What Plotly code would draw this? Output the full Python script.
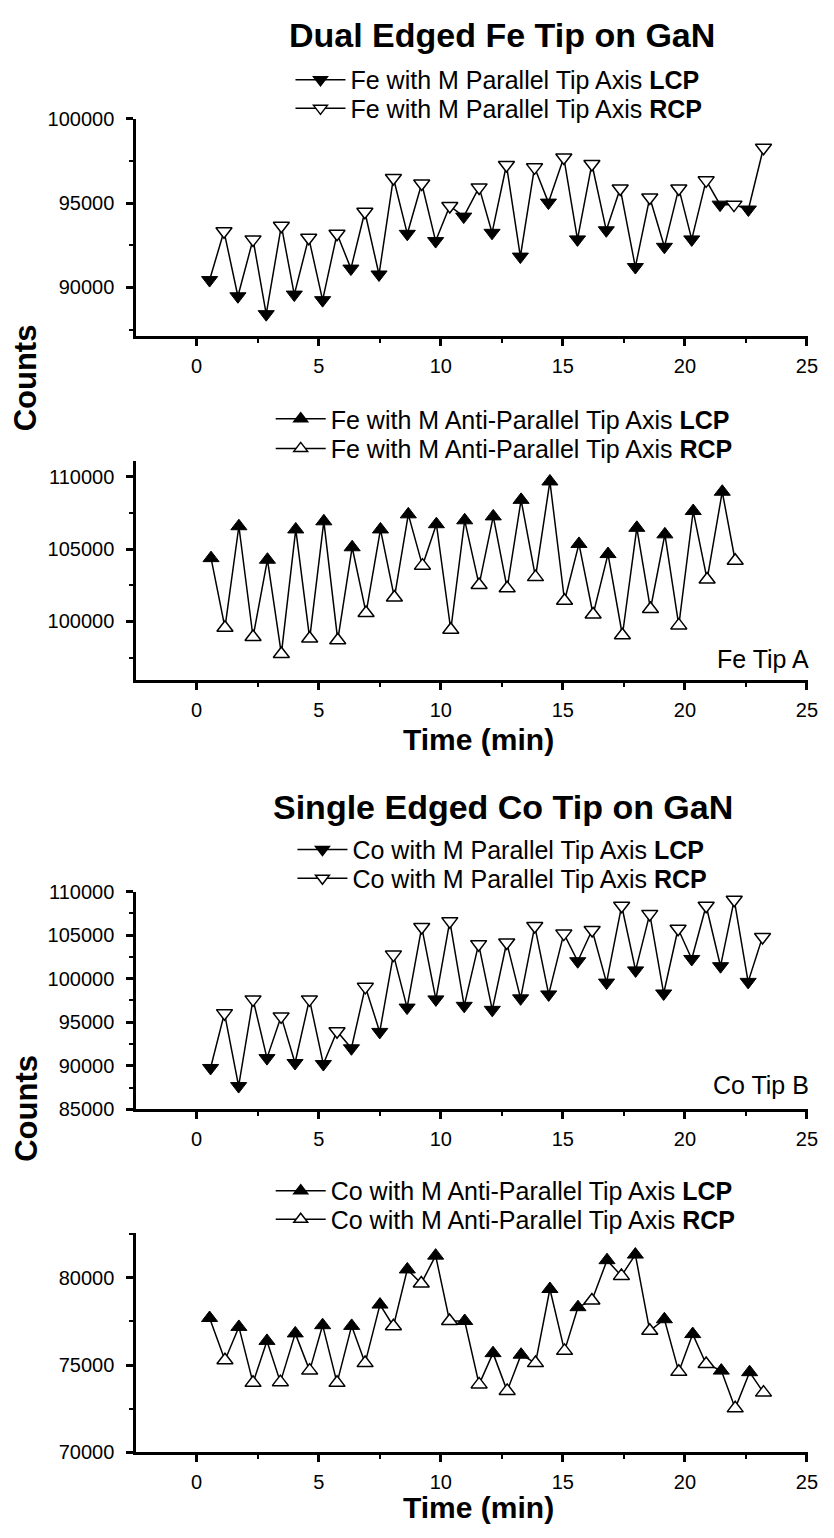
import plotly.graph_objects as go

W, H = 834, 1538
FONT = "Liberation Sans, Arial, sans-serif"

# ---------------- data ----------------
# Panel 1: Dual edged Fe tip, M parallel tip axis
fe_par_lcp_t = [0.53, 1.69, 2.85, 4.00, 5.16, 6.32, 7.47, 8.63, 9.79, 10.94, 12.10, 13.26, 14.41, 15.60, 16.78, 17.97, 19.16, 20.28, 21.44, 22.60]
fe_par_lcp = [90440, 89480, 88420, 89580, 89250, 91120, 90770, 93180, 92750, 94200, 93240, 91830, 95030, 92850, 93390, 91210, 92410, 92850, 94910, 94620]
fe_par_rcp_t = [1.12, 2.31, 3.47, 4.59, 5.75, 6.89, 8.06, 9.22, 10.37, 11.57, 12.69, 13.84, 15.04, 16.19, 17.35, 18.56, 19.75, 20.87, 22.01, 23.22]
fe_par_rcp = [93330, 92850, 93660, 92950, 93180, 94490, 96490, 96160, 94830, 95930, 97260, 97120, 97700, 97320, 95870, 95330, 95870, 96350, 94910, 98280]

# Panel 2: Fe tip, M anti-parallel tip axis
fe_anti_lcp_t = [0.59, 1.73, 2.90, 4.06, 5.21, 6.37, 7.53, 8.67, 9.82, 10.98, 12.15, 13.29, 14.47, 15.66, 16.85, 18.03, 19.18, 20.34, 21.53]
fe_anti_lcp = [104370, 106570, 104260, 106350, 106910, 105120, 106350, 107390, 106710, 106980, 107250, 108390, 109660, 105350, 104650, 106460, 106010, 107620, 108950]
fe_anti_rcp_t = [1.16, 2.31, 3.47, 4.63, 5.78, 6.94, 8.10, 9.25, 10.41, 11.57, 12.72, 13.88, 15.07, 16.24, 17.44, 18.59, 19.75, 20.91, 22.06]
fe_anti_rcp = [99570, 98930, 97760, 98820, 98710, 100590, 101650, 103850, 99430, 102520, 102290, 103060, 101430, 100480, 99050, 100860, 99730, 102900, 104190]

# Panel 3: Single edged Co tip, M parallel tip axis
co_par_lcp_t = [0.57, 1.72, 2.88, 4.03, 5.19, 6.34, 7.50, 8.62, 9.80, 10.96, 12.11, 13.27, 14.42, 15.61, 16.79, 17.98, 19.13, 20.28, 21.46, 22.59]
co_par_lcp = [89750, 87670, 90880, 90320, 90200, 92010, 93890, 96680, 97620, 96880, 96420, 97740, 98190, 102000, 99550, 100950, 98300, 102260, 101430, 99630]
co_par_rcp_t = [1.14, 2.31, 3.46, 4.62, 5.75, 6.91, 8.06, 9.22, 10.37, 11.55, 12.70, 13.85, 15.04, 16.20, 17.41, 18.56, 19.72, 20.87, 22.02, 23.18]
co_par_rcp = [96040, 97620, 95670, 97620, 93970, 99060, 102760, 105920, 106600, 103960, 104150, 106040, 105170, 105580, 108370, 107430, 105730, 108370, 109050, 104790]

# Panel 4: Co tip, M anti-parallel tip axis
co_anti_lcp_t = [0.53, 1.73, 2.88, 4.04, 5.16, 6.35, 7.51, 8.63, 9.79, 10.98, 12.14, 13.29, 14.47, 15.62, 16.81, 17.97, 19.16, 20.32, 21.49, 22.65]
co_anti_lcp = [77690, 77180, 76380, 76810, 77280, 77240, 78460, 80470, 81260, 77520, 75680, 75590, 79350, 78310, 81000, 81320, 77620, 76770, 74680, 74590]
co_anti_rcp_t = [1.16, 2.31, 3.43, 4.63, 5.75, 6.90, 8.06, 9.20, 10.36, 11.57, 12.72, 13.88, 15.07, 16.19, 17.40, 18.56, 19.75, 20.87, 22.06, 23.22]
co_anti_rcp = [75270, 73980, 74020, 74680, 73980, 75110, 77220, 79670, 77520, 73890, 73520, 75110, 75810, 78690, 80100, 76960, 74610, 75060, 72520, 73420]

x_ticks = [0, 5, 10, 15, 20, 25]

# ---------------- layout helpers ----------------
def px_x(p):
    return p / W

def px_y(p):
    return 1 - p / H

X_LEFT, X_RIGHT = 138, 818
panels = [
    dict(lt=fe_par_lcp_t, lv=fe_par_lcp, rt=fe_par_rcp_t, rv=fe_par_rcp, sym="triangle-down",
         top=109.3, bot=329.3, yr=[87150, 100000], yt=[90000, 95000, 100000],
         names=["Fe with M Parallel Tip Axis <b>LCP</b>", "Fe with M Parallel Tip Axis <b>RCP</b>"],
         leg_x=294, rows=[70, 99]),
    dict(lt=fe_anti_lcp_t, lv=fe_anti_lcp, rt=fe_anti_rcp_t, rv=fe_anti_rcp, sym="triangle-up",
         top=456.7, bot=678.3, yr=[95990, 111060], yt=[100000, 105000, 110000],
         names=["Fe with M Anti-Parallel Tip Axis <b>LCP</b>", "Fe with M Anti-Parallel Tip Axis <b>RCP</b>"],
         leg_x=274, rows=[414, 444]),
    dict(lt=co_par_lcp_t, lv=co_par_lcp, rt=co_par_rcp_t, rv=co_par_rcp, sym="triangle-down",
         top=893.3, bot=1114.3, yr=[85000, 110000], yt=[85000, 90000, 95000, 100000, 105000, 110000],
         names=["Co with M Parallel Tip Axis <b>LCP</b>", "Co with M Parallel Tip Axis <b>RCP</b>"],
         leg_x=296, rows=[851, 880]),
    dict(lt=co_anti_lcp_t, lv=co_anti_lcp, rt=co_anti_rcp_t, rv=co_anti_rcp, sym="triangle-up",
         top=1239.3, bot=1462.3, yr=[70000, 82580], yt=[70000, 75000, 80000],
         names=["Co with M Anti-Parallel Tip Axis <b>LCP</b>", "Co with M Anti-Parallel Tip Axis <b>RCP</b>"],
         leg_x=274, rows=[1197, 1226]),
]

fig = go.Figure()
layout = dict(
    width=W, height=H, margin=dict(l=0, r=0, t=0, b=0),
    paper_bgcolor="white", plot_bgcolor="white", showlegend=True,
    font=dict(family=FONT, color="black"),
)

MSIZE = 14
leg_idx = 0
for i, p in enumerate(panels):
    n = i + 1
    xa = "x" if n == 1 else f"x{n}"
    ya = "y" if n == 1 else f"y{n}"

    # zig-zag line through all points in time order
    pts = sorted(list(zip(p["lt"], p["lv"])) + list(zip(p["rt"], p["rv"])))
    fig.add_trace(go.Scatter(x=[a for a, _ in pts], y=[b for _, b in pts], mode="lines",
                             line=dict(color="black", width=1.5), showlegend=False,
                             xaxis=xa, yaxis=ya, hoverinfo="skip"))
    # markers
    fig.add_trace(go.Scatter(x=p["lt"], y=p["lv"], mode="markers", showlegend=False,
                             marker=dict(symbol=p["sym"], size=MSIZE, color="black",
                                         line=dict(color="black", width=1)),
                             xaxis=xa, yaxis=ya))
    fig.add_trace(go.Scatter(x=p["rt"], y=p["rv"], mode="markers", showlegend=False,
                             marker=dict(symbol=p["sym"], size=MSIZE, color="white",
                                         line=dict(color="black", width=1.5)),
                             xaxis=xa, yaxis=ya))
    # legend entries, one legend box per row
    for k, (nm, fill) in enumerate(zip(p["names"], ["black", "white"])):
        leg_idx += 1
        lg = "legend" if leg_idx == 1 else f"legend{leg_idx}"
        fig.add_trace(go.Scatter(x=[None], y=[None], mode="lines+markers", name=nm,
                                 line=dict(color="black", width=1.5),
                                 marker=dict(symbol=p["sym"], size=12, color=fill,
                                             line=dict(color="black", width=1.5)),
                                 xaxis=xa, yaxis=ya, legend=lg))
        layout[lg] = dict(x=px_x(p["leg_x"]), y=px_y(p["rows"][k]), xanchor="left",
                          yanchor="middle", bgcolor="rgba(0,0,0,0)", borderwidth=0,
                          itemwidth=50, font=dict(size=25, color="black", family=FONT))

    axis_common = dict(showline=True, linecolor="black", linewidth=3, ticks="outside",
                       ticklen=7, tickwidth=2.5, tickcolor="black", showgrid=False,
                       zeroline=False, tickfont=dict(size=20, color="black", family=FONT))
    layout["xaxis" if n == 1 else f"xaxis{n}"] = dict(
        axis_common, domain=[px_x(X_LEFT), px_x(X_RIGHT)], range=[-2.47, 25.05],
        tickmode="array", tickvals=x_ticks, anchor=ya, ticklabelstandoff=3,
        minor=dict(ticks="outside", ticklen=4, tickwidth=2, tickcolor="black", dtick=2.5, tick0=0))
    layout["yaxis" if n == 1 else f"yaxis{n}"] = dict(
        axis_common, domain=[px_y(p["bot"]), px_y(p["top"])], range=p["yr"],
        tickmode="array", tickvals=p["yt"], tickformat="d", anchor=xa, ticklabelstandoff=8,
        minor=dict(ticks="outside", ticklen=4, tickwidth=2, tickcolor="black", dtick=2500, tick0=0))

fig.update_layout(**layout)

def ann(text, x, y, size, bold=False, xanchor="center", angle=0):
    fig.add_annotation(text=f"<b>{text}</b>" if bold else text, x=px_x(x), y=px_y(y),
                       xref="paper", yref="paper", showarrow=False, xanchor=xanchor,
                       yanchor="middle", textangle=angle,
                       font=dict(size=size, color="black", family=FONT))

ann("Dual Edged Fe Tip on GaN", 508, 24, 34, bold=True)
ann("Single Edged Co Tip on GaN", 509, 808, 34, bold=True)
ann("Time (min)", 484, 739, 30, bold=True)
ann("Time (min)", 484, 1518, 30, bold=True)
ann("Counts", 26, 372, 31, bold=True, angle=-90)
ann("Counts", 26, 1113, 31, bold=True, angle=-90)
ann("Fe Tip A", 821, 657, 25, xanchor="right")
ann("Co Tip B", 821, 1090, 25, xanchor="right")

fig.write_html("out.html")
